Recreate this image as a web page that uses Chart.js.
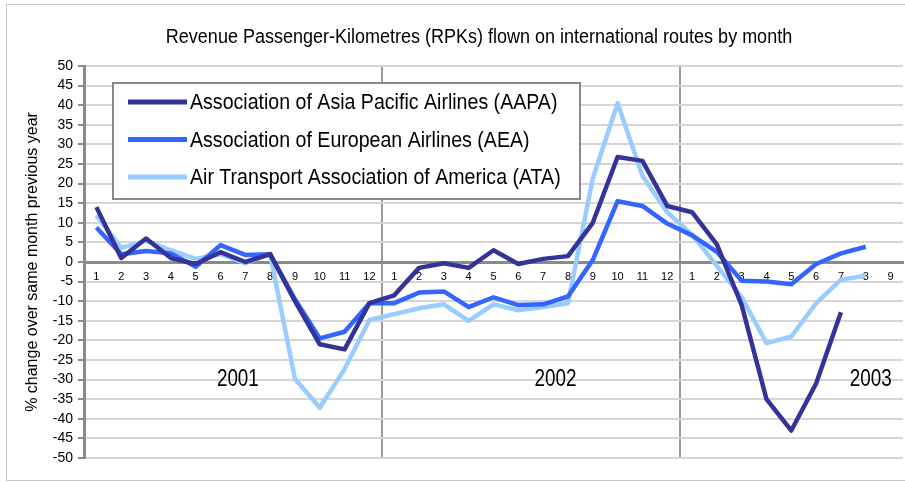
<!DOCTYPE html>
<html>
<head>
<meta charset="utf-8">
<script src="https://cdn.jsdelivr.net/npm/chart.js@4.4.1/dist/chart.umd.min.js"></script>
<style>
  html, body { margin: 0; padding: 0; background: #fff; }
  #wrap { width: 905px; height: 483px; position: relative; }
</style>
</head>
<body>
<div id="wrap"><canvas id="rpk" width="905" height="483"></canvas></div>
<script>
// months: Jan 2001 .. Sep 2003
const monthLabels = [
  '1', '2', '3', '4', '5', '6', '7', '8', '9', '10', '11', '12',
  '1', '2', '3', '4', '5', '6', '7', '8', '9', '10', '11', '12',
  '1', '2', '3', '4', '5', '6', '7', '8', '9',
];
const yearLabels = ['2001', '2002', '2003'];
const chartTitle = 'Revenue Passenger-Kilometres (RPKs) flown on international routes by month';

// % change over same month previous year
const aapa = [
  14, 1, 6, 1, -0.5, 2.5, 0, 2, -10, -21, -22.3, -10.5,
  -8.5, -1.5, -0.3, -1.5, 3, -0.5, 0.8, 1.5, 10, 26.8, 25.8, 14.3,
  12.7, 4.5, -11, -35, -43, -31, -12.8, null, null,
];
const aea = [
  8.8, 2, 2.8, 2.2, -1.2, 4.3, 1.8, 2, -9.5, -19.5, -17.8, -10.5,
  -10.5, -7.8, -7.5, -11.5, -9, -11, -10.8, -8.8, 0.5, 15.5, 14.3, 9.8,
  6.8, 2.6, -4.8, -5, -5.7, -0.5, 2.2, 3.9, null,
];
const ata = [
  11.9, 3.6, 5.4, 3, 0.8, 2, -0.3, 2, -29.8, -37.2, -27.3, -14.8,
  -13.3, -11.8, -10.8, -15, -10.8, -12.3, -11.5, -10.5, 21.3, 40.5, 22, 12.7,
  7, -1, -9, -20.7, -19, -10.5, -4.5, -3.5, null,
];

const FONT = "'Liberation Sans', Arial, sans-serif";

// narrow-looking text: squeeze the normal face horizontally
function squeezedText(ctx, text, x, y, k) {
  const w = ctx.measureText(text).width;
  ctx.fillText(text, x, y, w * k);
}

const overlay = {
  id: 'overlay',
  beforeDraw(chart) {
    const { ctx } = chart;
    ctx.save();
    ctx.fillStyle = '#fff';
    ctx.fillRect(0, 0, chart.width, chart.height);
    ctx.setLineDash([1, 1]);
    ctx.strokeStyle = '#8c8c8c';
    ctx.lineWidth = 1;
    ctx.strokeRect(6.5, 4.5, 910, 476);
    ctx.setLineDash([]);
    ctx.fillStyle = '#000';
    ctx.font = '20px ' + FONT;
    ctx.textAlign = 'center';
    ctx.textBaseline = 'middle';
    squeezedText(ctx, chartTitle, 479, 37, 0.9);
    ctx.restore();
  },
  afterDatasetsDraw(chart) {
    const { ctx } = chart;
    const x = chart.scales.x;
    const y = chart.scales.y;
    ctx.save();
    // year names inside the plot
    ctx.fillStyle = '#000';
    ctx.font = '23px ' + FONT;
    ctx.textAlign = 'center';
    ctx.textBaseline = 'middle';
    const yearAt = [5.7, 18.5, 31.2];
    yearLabels.forEach((t, i) => {
      squeezedText(ctx, t, x.getPixelForValue(yearAt[i]), y.getPixelForValue(-30), 0.82);
    });

    // boxed legend, top left of the plot
    ctx.fillStyle = '#fff';
    ctx.fillRect(113, 83, 467, 116);
    ctx.strokeStyle = '#8a8a8a';
    ctx.lineWidth = 2;
    ctx.strokeRect(113, 83, 467, 116);
    ctx.textAlign = 'left';
    ctx.font = '22px ' + FONT;
    chart.data.datasets.forEach((ds, i) => {
      const rowY = 102 + i * 37.5;
      ctx.strokeStyle = ds.borderColor;
      ctx.lineWidth = 5;
      ctx.beginPath();
      ctx.moveTo(128, rowY);
      ctx.lineTo(187, rowY);
      ctx.stroke();
      ctx.fillStyle = '#000';
      squeezedText(ctx, ds.label, 190, rowY + 1, 0.89);
    });
    ctx.restore();
  },
};

new Chart(document.getElementById('rpk'), {
  type: 'line',
  data: {
    labels: monthLabels,
    datasets: [
      {
        label: 'Association of Asia Pacific Airlines (AAPA)',
        data: aapa,
        borderColor: '#333399',
        backgroundColor: '#333399',
      },
      {
        label: 'Association of European Airlines (AEA)',
        data: aea,
        borderColor: '#3366ff',
        backgroundColor: '#3366ff',
      },
      {
        label: 'Air Transport Association of America (ATA)',
        data: ata,
        borderColor: '#99ccff',
        backgroundColor: '#99ccff',
      },
    ],
  },
  options: {
    responsive: false,
    animation: false,
    devicePixelRatio: 1,
    layout: { padding: { left: 0, right: 2, top: 66, bottom: 25 } },
    elements: {
      line: { borderWidth: 4.5, tension: 0, borderJoinStyle: 'round' },
      point: { radius: 0, hoverRadius: 0 },
    },
    plugins: {
      legend: { display: false },
      tooltip: { enabled: false },
      title: { display: false },
    },
    scales: {
      x: {
        type: 'category',
        position: { y: 0 },
        offset: true,
        grid: {
          offset: true,
          drawTicks: false,
          lineWidth: 2,
          color: (c) => {
            if (c.index === 12 || c.index === 24) return '#9a9a9a';
            if (c.index === 33) return '#cfcfcf';
            return 'rgba(0,0,0,0)';
          },
        },
        border: { display: true, color: '#8a8a8a', width: 3 },
        ticks: {
          color: '#000',
          font: { family: FONT, size: 11 },
          padding: 8,
          autoSkip: false,
          maxRotation: 0,
        },
      },
      y: {
        min: -50,
        max: 50,
        afterFit(scale) { scale.width = 84; },
        grid: {
          lineWidth: 2,
          color: (c) => (c.tick && c.tick.value === 0 ? '#8a8a8a' : '#d6d6d6'),
          tickColor: '#8a8a8a',
          tickLength: 6,
          tickWidth: 2,
        },
        border: { display: true, color: '#8a8a8a', width: 3 },
        ticks: {
          stepSize: 5,
          color: '#000',
          font: { family: FONT, size: 14 },
          padding: 5,
          autoSkip: false,
        },
        title: {
          display: true,
          text: '% change over same month previous year',
          color: '#000',
          font: { family: FONT, size: 16 },
          padding: { top: 23, bottom: 0 },
        },
      },
    },
  },
  plugins: [overlay],
});
</script>
</body>
</html>
